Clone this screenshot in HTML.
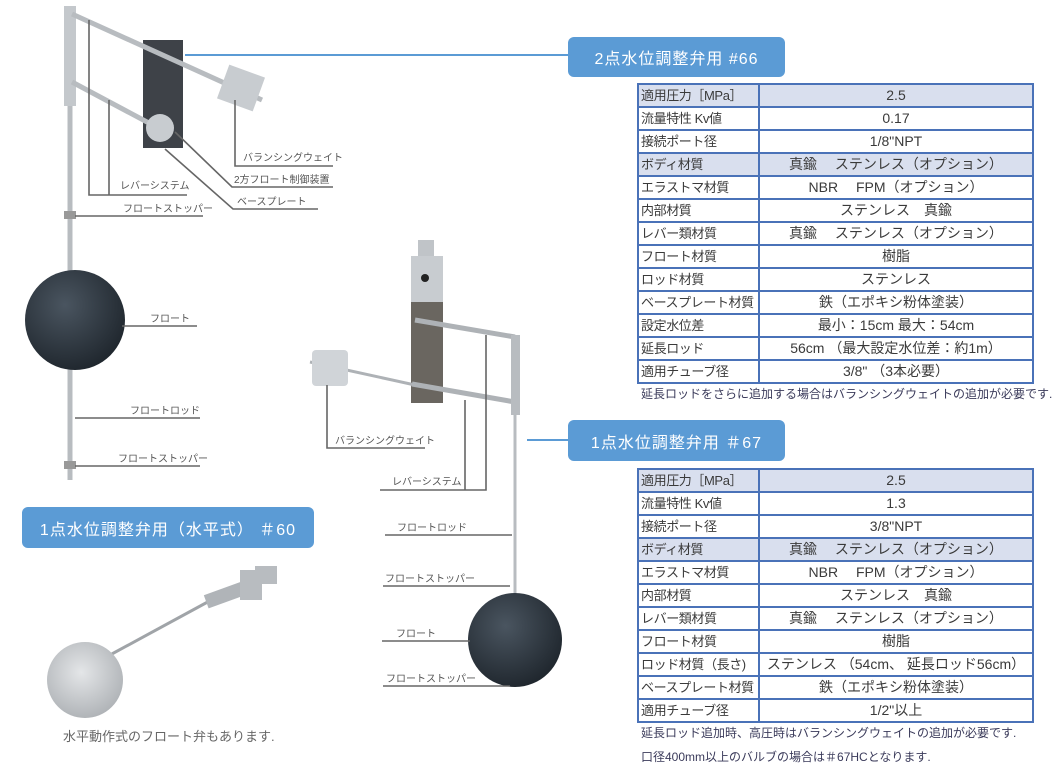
<!DOCTYPE html>
<html><head><meta charset="utf-8"><style>
body{margin:0;width:1057px;height:772px;background:#fff;position:relative;overflow:hidden;font-family:"Liberation Sans","Noto Sans CJK JP",sans-serif;}
.hd{position:absolute;background:#5b9bd5;color:#fff;border-radius:6px;font-size:16px;display:flex;align-items:center;justify-content:center;letter-spacing:1px}
table{position:absolute;border-collapse:collapse;font-size:14px;color:#3a3a3a;table-layout:fixed}
tr{height:23px}
td{border:2px solid #4a72b8;padding:0 2px;line-height:19px;white-space:nowrap;overflow:hidden}
td:first-child{font-size:13px;letter-spacing:-0.4px}
td.v{text-align:center}
tr.h td{background:#d9dfee}
.n{position:absolute;font-size:12px;color:#3a3a5a;white-space:nowrap}
.lb{font-size:10px;fill:#555}
</style></head><body>
<div class="hd" style="left:568px;top:37px;width:217px;height:40px">2点水位調整弁用 #66</div>
<div class="hd" style="left:568px;top:420px;width:217px;height:41px">1点水位調整弁用 ＃67</div>
<div class="hd" style="left:22px;top:507px;width:292px;height:41px">1点水位調整弁用（水平式） ＃60</div>

<table style="left:637px;top:83px;width:397px">
<colgroup><col style="width:121px"><col></colgroup>
<tr class="h"><td>適用圧力［MPa］</td><td class="v">2.5</td></tr>
<tr><td>流量特性 Kv値</td><td class="v">0.17</td></tr>
<tr><td>接続ポート径</td><td class="v">1/8"NPT</td></tr>
<tr class="h"><td>ボディ材質</td><td class="v">真鍮　 ステンレス（オプション）</td></tr>
<tr><td>エラストマ材質</td><td class="v">NBR　 FPM（オプション）</td></tr>
<tr><td>内部材質</td><td class="v">ステンレス　真鍮</td></tr>
<tr><td>レバー類材質</td><td class="v">真鍮　 ステンレス（オプション）</td></tr>
<tr><td>フロート材質</td><td class="v">樹脂</td></tr>
<tr><td>ロッド材質</td><td class="v">ステンレス</td></tr>
<tr><td>ベースプレート材質</td><td class="v">鉄（エポキシ粉体塗装）</td></tr>
<tr><td>設定水位差</td><td class="v">最小：15cm 最大：54cm</td></tr>
<tr><td>延長ロッド</td><td class="v">56cm （最大設定水位差：約1m）</td></tr>
<tr><td>適用チューブ径</td><td class="v">3/8" （3本必要）</td></tr>
</table>
<div class="n" style="left:641px;top:385px">延長ロッドをさらに追加する場合はバランシングウェイトの追加が必要です.</div>

<table style="left:637px;top:468px;width:397px">
<colgroup><col style="width:121px"><col></colgroup>
<tr class="h"><td>適用圧力［MPa］</td><td class="v">2.5</td></tr>
<tr><td>流量特性 Kv値</td><td class="v">1.3</td></tr>
<tr><td>接続ポート径</td><td class="v">3/8"NPT</td></tr>
<tr class="h"><td>ボディ材質</td><td class="v">真鍮　 ステンレス（オプション）</td></tr>
<tr><td>エラストマ材質</td><td class="v">NBR　 FPM（オプション）</td></tr>
<tr><td>内部材質</td><td class="v">ステンレス　真鍮</td></tr>
<tr><td>レバー類材質</td><td class="v">真鍮　 ステンレス（オプション）</td></tr>
<tr><td>フロート材質</td><td class="v">樹脂</td></tr>
<tr><td>ロッド材質（長さ)</td><td class="v">ステンレス （54cm、 延長ロッド56cm）</td></tr>
<tr><td>ベースプレート材質</td><td class="v">鉄（エポキシ粉体塗装）</td></tr>
<tr><td>適用チューブ径</td><td class="v">1/2"以上</td></tr>
</table>
<div class="n" style="left:641px;top:724px">延長ロッド追加時、高圧時はバランシングウェイトの追加が必要です.</div>
<div class="n" style="left:641px;top:748px">口径400mm以上のバルブの場合は＃67HCとなります.</div>
<div class="n" style="left:63px;top:726px;color:#666;font-size:13px">水平動作式のフロート弁もあります.</div>

<svg style="position:absolute;left:0;top:0" width="1057" height="772">
<defs>
<radialGradient id="blk" cx="0.4" cy="0.35" r="0.7"><stop offset="0" stop-color="#4a5560"/><stop offset="1" stop-color="#1e252c"/></radialGradient>
<radialGradient id="sil" cx="0.45" cy="0.4" r="0.7"><stop offset="0" stop-color="#e4e6e8"/><stop offset="1" stop-color="#a8acb0"/></radialGradient>
</defs>
<rect x="143" y="40" width="40" height="108" fill="#3e4248"/>
<line x1="70" y1="8" x2="70" y2="480" stroke="#b8bcc0" stroke-width="5"/>
<rect x="64" y="6" width="12" height="100" fill="#c4c8cc"/>
<line x1="72" y1="14" x2="262" y2="100" stroke="#b8bcc0" stroke-width="5"/>
<line x1="72" y1="82" x2="162" y2="130" stroke="#b8bcc0" stroke-width="5"/>
<circle cx="160" cy="128" r="14" fill="#c8ccd0"/>
<rect x="222" y="70" width="38" height="36" fill="#c8ccd0" transform="rotate(20 241 88)"/>
<circle cx="75" cy="320" r="50" fill="url(#blk)"/>
<rect x="64" y="211" width="12" height="8" fill="#999"/>
<rect x="64" y="461" width="12" height="8" fill="#999"/>
<g stroke="#666" stroke-width="1.6" fill="none">
<polyline points="89,20 89,195 187,195"/><line x1="109" y1="100" x2="109" y2="195"/>
<line x1="75" y1="216" x2="203" y2="216"/>
<polyline points="235,100 235,166 333,166"/>
<polyline points="175,132 232,187 333,187"/>
<polyline points="165,149 233,209 318,209"/>
<line x1="122" y1="326" x2="197" y2="326"/>
<line x1="75" y1="418" x2="200" y2="418"/>
<line x1="75" y1="466" x2="200" y2="466"/>
</g>
<line x1="185" y1="55" x2="568" y2="55" stroke="#5b9bd5" stroke-width="2"/>
<g class="lb">
<text x="120" y="189">レバーシステム</text>
<text x="123" y="212">フロートストッパー</text>
<text x="243" y="161">バランシングウェイト</text>
<text x="234" y="183">2方フロート制御装置</text>
<text x="237" y="205">ベースプレート</text>
<text x="150" y="322">フロート</text>
<text x="130" y="414">フロートロッド</text>
<text x="118" y="462">フロートストッパー</text>
</g>
<rect x="411" y="300" width="32" height="103" fill="#6a6660"/>
<rect x="418" y="240" width="16" height="18" fill="#c0c4c8"/>
<rect x="411" y="256" width="32" height="46" fill="#c8ccd0"/>
<circle cx="425" cy="278" r="4" fill="#222"/>
<line x1="415" y1="320" x2="515" y2="337" stroke="#aeb2b6" stroke-width="5"/>
<line x1="412" y1="384" x2="515" y2="402" stroke="#aeb2b6" stroke-width="5"/>
<line x1="310" y1="362" x2="415" y2="385" stroke="#aeb2b6" stroke-width="3"/>
<rect x="511" y="335" width="9" height="80" fill="#b8bcc0"/>
<line x1="515" y1="410" x2="515" y2="600" stroke="#b8bcc0" stroke-width="3"/>
<rect x="312" y="350" width="36" height="36" rx="4" fill="#d0d4d8"/>
<circle cx="515" cy="640" r="47" fill="url(#blk)"/>
<g stroke="#666" stroke-width="1.6" fill="none">
<polyline points="327,385 327,448 425,448"/>
<polyline points="486,335 486,490 380,490"/><line x1="465" y1="400" x2="465" y2="490"/>
<line x1="385" y1="535" x2="512" y2="535"/>
<line x1="383" y1="586" x2="510" y2="586"/>
<line x1="382" y1="641" x2="470" y2="641"/>
<line x1="383" y1="686" x2="510" y2="686"/>
</g>
<line x1="527" y1="440" x2="568" y2="440" stroke="#5b9bd5" stroke-width="2"/>
<g class="lb">
<text x="335" y="444">バランシングウェイト</text>
<text x="392" y="485">レバーシステム</text>
<text x="397" y="531">フロートロッド</text>
<text x="385" y="582">フロートストッパー</text>
<text x="396" y="637">フロート</text>
<text x="386" y="682">フロートストッパー</text>
</g>
<line x1="110" y1="655" x2="215" y2="598" stroke="#a0a4a8" stroke-width="3"/>
<rect x="205" y="588" width="40" height="14" fill="#b0b4b8" transform="rotate(-20 225 595)"/>
<path d="M240 570 h22 v30 h-22z M255 566 h22 v18 h-22z" fill="#b8bcc0"/>
<circle cx="85" cy="680" r="38" fill="url(#sil)"/>
</svg>
</body></html>
